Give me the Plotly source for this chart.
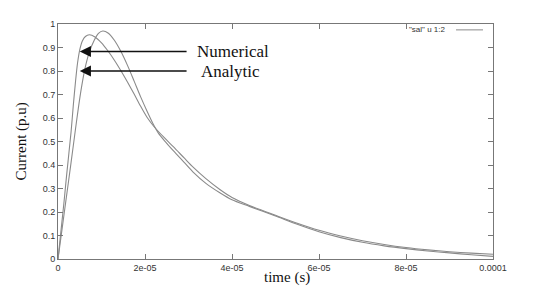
import plotly.graph_objects as go

# time in microseconds -> converted to seconds
t_fast = [0, 1, 1.4, 2, 3, 3.5, 4, 4.5, 5.06, 5.6, 6.3, 7.2, 8.5, 10, 11.5, 13, 14.5, 16, 17.5, 19,
          20.5, 22, 24.5, 26.5, 29, 31, 34, 37.2, 40, 44, 50, 55, 60, 65, 70, 75, 80, 85, 90, 95, 100]
i_fast = [0, 0.175, 0.246, 0.36, 0.54, 0.65, 0.75, 0.835, 0.895, 0.928, 0.947, 0.954, 0.945, 0.92, 0.885,
          0.845, 0.8, 0.752, 0.702, 0.65, 0.602, 0.565, 0.515, 0.478, 0.43, 0.392, 0.342, 0.296, 0.262,
          0.228, 0.186, 0.152, 0.122, 0.098, 0.078, 0.062, 0.049, 0.039, 0.031, 0.025, 0.02]

t_slow = [0, 1, 1.8, 3, 4, 4.7, 5.4, 6.2, 7.2, 8.3, 9.3, 10.3, 11.5, 13, 14.5, 16, 17.5, 19, 20.5, 22,
          23, 24.5, 26.5, 29, 31, 34, 37.2, 40, 44, 50, 55, 60, 65, 70, 75, 80, 85, 90, 95, 100]
i_slow = [0, 0.137, 0.246, 0.41, 0.55, 0.645, 0.73, 0.81, 0.88, 0.93, 0.96, 0.97, 0.962, 0.93, 0.882,
          0.823, 0.757, 0.69, 0.628, 0.57, 0.538, 0.503, 0.461, 0.411, 0.371, 0.322, 0.282, 0.252, 0.224,
          0.183, 0.148, 0.116, 0.091, 0.071, 0.056, 0.044, 0.034, 0.026, 0.018, 0.011]

x_ticks = [0, 2e-05, 4e-05, 6e-05, 8e-05, 1e-04]
x_ticktext = ["0", "2e-05", "4e-05", "6e-05", "8e-05", "0.0001"]
y_ticks = [0, 0.1, 0.2, 0.3, 0.4, 0.5, 0.6, 0.7, 0.8, 0.9, 1]
y_ticktext = ["0", "0.1", "0.2", "0.3", "0.4", "0.5", "0.6", "0.7", "0.8", "0.9", "1"]

legend_label = '"sal" u 1:2'
labels = ["Numerical", "Analytic"]
label_y = [0.883, 0.8]
label_t = [3.15e-05, 3.25e-05]
arrow_tip_t = 5.0e-06
arrow_tail_t = 2.99e-05

sec = lambda arr: [v * 1e-6 for v in arr]

fig = go.Figure()
for tt, ii in ((t_fast, i_fast), (t_slow, i_slow)):
    fig.add_trace(go.Scatter(x=sec(tt), y=ii, mode="lines",
                             line=dict(color="#8a8a8a", width=1.1, shape="spline", smoothing=0.8),
                             showlegend=False))

tickfont = dict(family="Liberation Sans, Arial", size=9, color="#333333")
axis_common = dict(showgrid=False, zeroline=False, showline=True, linecolor="#777777", linewidth=1,
                   mirror="ticks", ticks="inside", ticklen=5, tickcolor="#777777", tickfont=tickfont)

fig.update_xaxes(range=[0, 1e-04], tickvals=x_ticks, ticktext=x_ticktext, **axis_common)
fig.update_yaxes(range=[0, 1], tickvals=y_ticks, ticktext=y_ticktext, **axis_common)

serif = dict(family="Liberation Serif, Times New Roman", size=15, color="#111111")
serif_big = dict(family="Liberation Serif, Times New Roman", size=17, color="#111111")

annotations = []
for lab, yv, lt in zip(labels, label_y, label_t):
    annotations.append(dict(x=arrow_tip_t, y=yv, ax=arrow_tail_t, ay=yv, xref="x", yref="y",
                            axref="x", ayref="y", text="", showarrow=True, arrowhead=2,
                            arrowsize=1.6, arrowwidth=1.4, arrowcolor="#111111"))
    annotations.append(dict(x=lt, y=yv, xref="x", yref="y", text=lab, showarrow=False,
                            xanchor="left", yanchor="middle", font=serif_big))

annotations.append(dict(x=0.527, y=-0.08, xref="paper", yref="paper", text="time (s)",
                        showarrow=False, xanchor="center", yanchor="middle", font=serif))
annotations.append(dict(x=-0.085, y=0.5, xref="paper", yref="paper", text="Current (p.u)",
                        showarrow=False, xanchor="center", yanchor="middle", textangle=-90, font=serif))
annotations.append(dict(x=0.895, y=0.975, xref="paper", yref="paper", text=legend_label,
                        showarrow=False, xanchor="right", yanchor="middle",
                        font=dict(family="Liberation Sans, Arial", size=8, color="#333333")))

fig.update_layout(
    width=535, height=288,
    margin=dict(l=50, r=50, t=11, b=37),
    paper_bgcolor="white", plot_bgcolor="white",
    annotations=annotations,
    shapes=[dict(type="line", xref="paper", yref="paper", x0=0.915, x1=0.977, y0=0.975, y1=0.975,
                 line=dict(color="#8a8a8a", width=1))],
)

fig.write_html("out.html")
